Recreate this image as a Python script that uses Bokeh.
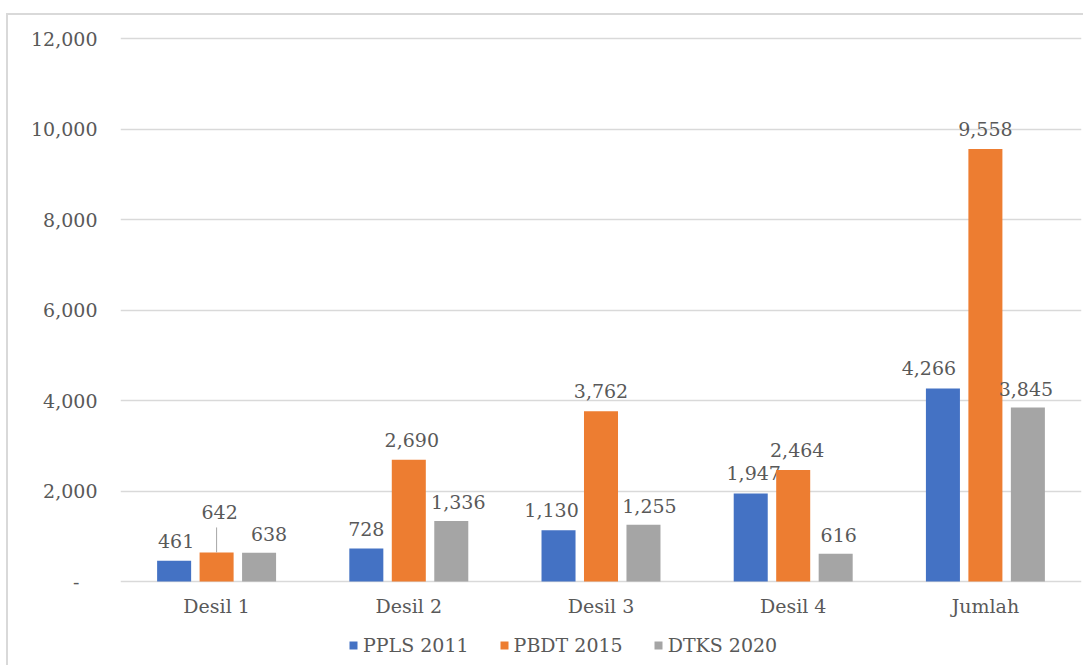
from bokeh.plotting import figure
from bokeh.models import (ColumnDataSource, FactorRange, Range1d, Legend, LegendItem,
                          NumeralTickFormatter, FixedTicker)
from bokeh.transform import dodge
from bokeh.core.properties import value
from bokeh.embed import file_html
from bokeh.resources import INLINE

categories = ["Desil 1", "Desil 2", "Desil 3", "Desil 4", "Jumlah"]
series_names = ["PPLS 2011", "PBDT 2015", "DTKS 2020"]
ppls_2011 = [461, 728, 1130, 1947, 4266]
pbdt_2015 = [642, 2690, 3762, 2464, 9558]
dtks_2020 = [638, 1336, 1255, 616, 3845]
y_ticks = [0, 2000, 4000, 6000, 8000, 10000, 12000]

# styling
colors = ["#4472C4", "#ED7D31", "#A5A5A5"]
offsets = [-0.221, 0.0, 0.221]
bar_w = 0.177
FONT_NAME = "DejaVu Serif"
FONT = value(FONT_NAME)
FS = "19px"
TXT = "#595959"
GRID = "#d9d9d9"
# label nudges in pixels (Excel-style label placement)
label_dx = [[2, 0, -7, 3, -14], [3, 3, 0, 4, 0], [10, 7, 6, 3, -2]]
label_lift = [[20, 20, 20, 20, 20], [40, 20, 20, 20, 20], [19, 19, 19, 19, 19]]

px_per_unit = 543 / 12000.0
below_px = 84  # room under the baseline for category labels and legend
p = figure(x_range=FactorRange(*categories, range_padding=0),
           y_range=Range1d(-below_px / px_per_unit, 12000 + 2 / px_per_unit),
           frame_width=961, frame_height=545 + below_px,
           min_border_left=112, min_border_top=21, min_border_right=2, min_border_bottom=0,
           output_backend="svg", toolbar_location=None)
p.styles = {"border-left": "2px solid #d9d9d9", "border-top": "2px solid #d9d9d9",
            "margin-left": "6px", "margin-top": "13px"}
p.outline_line_color = None
p.background_fill_color = "white"
p.border_fill_color = "white"

all_vals = [ppls_2011, pbdt_2015, dtks_2020]
items = []
for i, (name, vals) in enumerate(zip(series_names, all_vals)):
    src = ColumnDataSource(dict(
        cat=categories, val=vals,
        lbl=["{:,}".format(v) for v in vals],
        dx=label_dx[i], dy=[-l for l in label_lift[i]],
    ))
    r = p.vbar(x=dodge("cat", offsets[i], range=p.x_range), top="val", width=bar_w,
               source=src, fill_color=colors[i], line_color=None)
    items.append(LegendItem(label=name, renderers=[r]))
    p.text(x=dodge("cat", offsets[i], range=p.x_range), y="val", text="lbl",
           x_offset="dx", y_offset="dy", source=src,
           text_align="center", text_baseline="middle",
           text_font=FONT, text_font_size=FS, text_color=TXT)

# leader line for the lifted label (Desil 1, PBDT 2015)
lead_src = ColumnDataSource(dict(cat=[categories[0]], y0=[pbdt_2015[0]],
                                 y1=[pbdt_2015[0] + 25 / px_per_unit]))
p.segment(x0=dodge("cat", offsets[1], range=p.x_range), y0="y0",
          x1=dodge("cat", offsets[1], range=p.x_range), y1="y1",
          source=lead_src, line_color="#a6a6a6", line_width=1)

# category labels under the baseline
cat_src = ColumnDataSource(dict(cat=categories, base=[0] * len(categories)))
p.text(x="cat", y="base", text="cat", source=cat_src, y_offset=24,
       text_align="center", text_baseline="middle",
       text_font=FONT, text_font_size=FS, text_color=TXT)

# axes
p.yaxis.ticker = FixedTicker(ticks=y_ticks)
p.yaxis.formatter = NumeralTickFormatter(format="0,0")
p.yaxis.major_label_overrides = {0: "-\u00a0\u00a0\u00a0"}
p.yaxis.axis_line_color = None
p.yaxis.major_tick_line_color = None
p.yaxis.minor_tick_line_color = None
p.yaxis.major_tick_out = 0
p.yaxis.minor_tick_out = 0
p.yaxis.major_label_standoff = 23
p.yaxis.major_label_text_font = FONT_NAME
p.yaxis.major_label_text_font_size = FS
p.yaxis.major_label_text_color = TXT

p.xaxis.visible = False

p.xgrid.grid_line_color = None
p.ygrid.grid_line_color = GRID
p.ygrid.grid_line_width = 1.5

legend = Legend(items=items, orientation="horizontal", location=(228, 9),
                label_text_font=FONT_NAME, label_text_font_size=FS, label_text_color=TXT,
                glyph_width=10, glyph_height=10, spacing=30, label_standoff=5,
                label_height=16, border_line_color=None, background_fill_alpha=0,
                margin=0, padding=0)
p.add_layout(legend, "center")

open("out.html", "w").write(file_html(p, INLINE))
